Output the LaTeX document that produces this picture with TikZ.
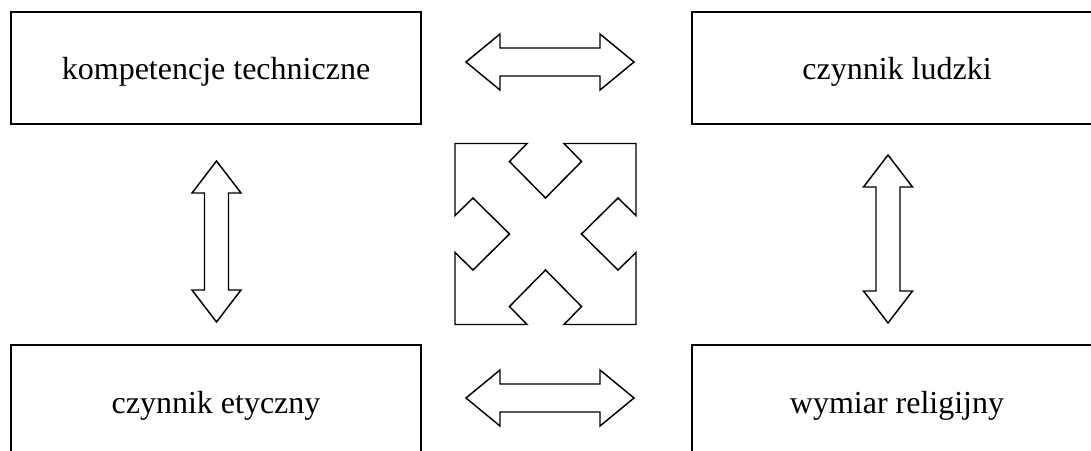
\documentclass[tikz,border=0pt]{standalone}
\usepackage{fontspec}
\setmainfont{Liberation Serif}
\begin{document}
\begin{tikzpicture}[x=0.75pt,y=-0.75pt,
  box/.style={draw,line width=1.5pt,minimum width=307.5pt,minimum height=84pt,
    inner sep=0pt,text height=18pt,text depth=0pt,
    font=\fontsize{24}{28}\selectfont},
  blockarrow/.style={draw,line width=1.1pt,line join=miter,fill=white},
  pics/hbi/.style={code={
    \draw[blockarrow] (-84,0) -- (-50,-28) -- (-50,-14) -- (50,-14) -- (50,-28)
      -- (84,0) -- (50,28) -- (50,14) -- (-50,14) -- (-50,28) -- cycle;}},
  pics/vbi/.style={code={
    \draw[blockarrow] (0,-#1) -- (24.5,{-#1+32}) -- (12,{-#1+32}) -- (12,{#1-32})
      -- (24.5,{#1-32}) -- (0,#1) -- (-24.5,{#1-32}) -- (-12,{#1-32})
      -- (-12,{-#1+32}) -- (-24.5,{-#1+32}) -- cycle;}},
  pics/quad/.style={code={
    \draw[blockarrow]
      (-90.5,-90.5) -- (-18.5,-90.5) -- (-36,-72.5) -- (0,-36) -- (36,-72.5)
      -- (18.5,-90.5) -- (90.5,-90.5) -- (90.5,-18.5) -- (72.5,-36) -- (36,0)
      -- (72.5,36) -- (90.5,18.5) -- (90.5,90.5) -- (18.5,90.5) -- (36,72.5)
      -- (0,36) -- (-36,72.5) -- (-18.5,90.5) -- (-90.5,90.5) -- (-90.5,18.5)
      -- (-72.5,36) -- (-36,0) -- (-72.5,-36) -- (-90.5,-18.5) -- cycle;}}
]
\useasboundingbox (0,0) rectangle (1091,450);
\clip (0,0) rectangle (1091,450);

% the four factor boxes
\node[box] (tech) at (216,67.5) {kompetencje techniczne};
\node[box] (human) at (897,67.5) {czynnik ludzki};
\node[box] (ethic) at (216,401) {czynnik etyczny};
\node[box] (relig) at (897,401) {wymiar religijny};

% anchor points of the two-headed block arrows between the boxes
\coordinate (toparrow) at (550,62);
\coordinate (botarrow) at (550,398);
\coordinate (leftarrow) at (216.5,241.5);
\coordinate (rightarrow) at (888,239);
\coordinate (centre) at (545.5,234);

\pic at (toparrow) {hbi};
\pic at (botarrow) {hbi};
\pic at (leftarrow) {vbi=80.5};
\pic at (rightarrow) {vbi=84};
\pic at (centre) {quad};
\end{tikzpicture}
\end{document}
